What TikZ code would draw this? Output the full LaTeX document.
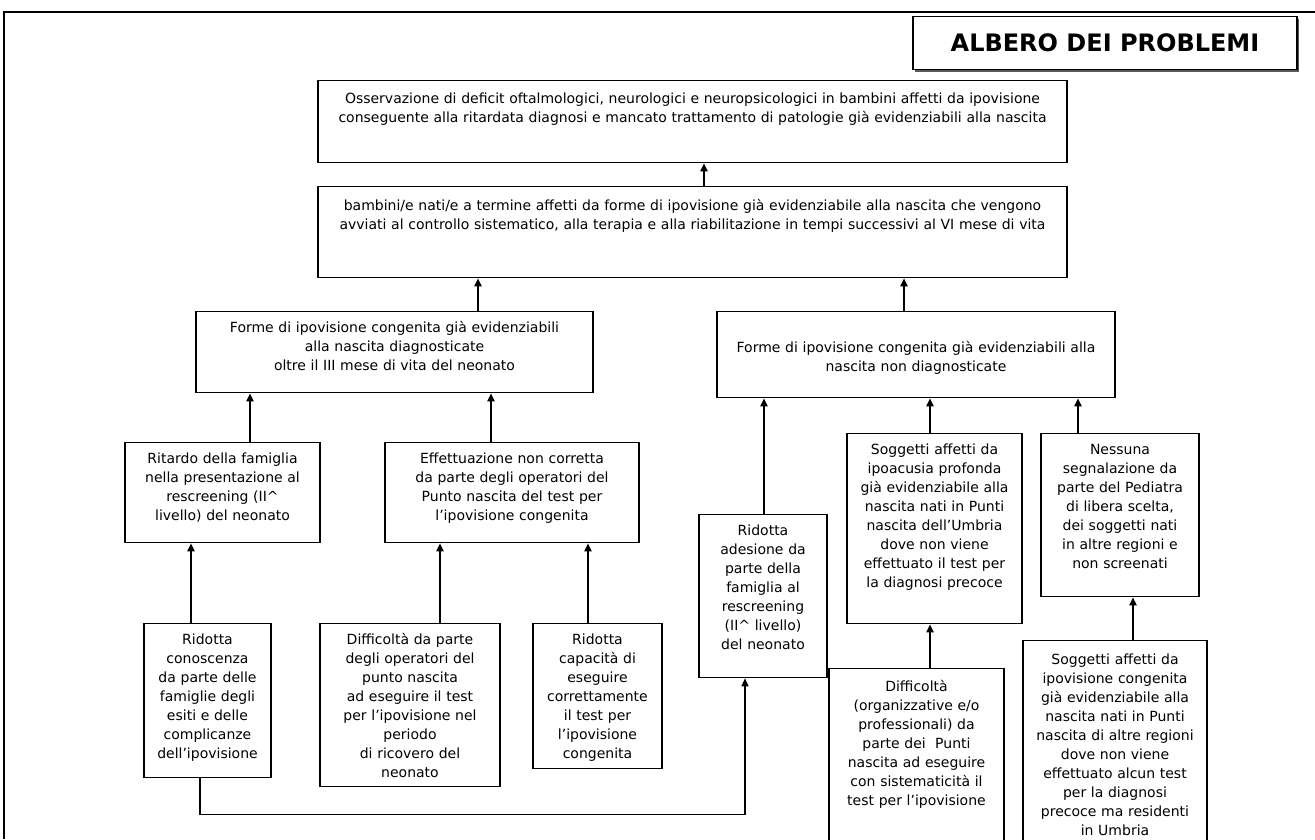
\documentclass[tikz,border=0pt]{standalone}
\usepackage{fontspec}
\setmainfont{DejaVu Sans}
\usepackage{tikz}
\usetikzlibrary{arrows.meta, shadows}

\begin{document}
\begin{tikzpicture}[
    x=1pt, y=-1pt,
    % --- node styles ---
    cell/.style={draw=black, line width=1.3pt, align=center, anchor=north,
        inner xsep=3pt, inner ysep=0pt, text height=21pt,
        font=\fontsize{14}{19}\selectfont},
    titlebox/.style={draw=black, line width=1.3pt, fill=white,
        minimum width=384pt, minimum height=53pt, inner sep=0pt,
        font=\fontsize{24}{28}\selectfont\bfseries,
        drop shadow={shadow xshift=2pt, shadow yshift=-2pt, opacity=1, fill=black!65}},
    % --- arrow styles ---
    arr/.style={-{Triangle[length=8pt, width=7pt]}, line width=1.8pt},
    link/.style={-{Triangle[length=8pt, width=7pt]}, line width=1.4pt}
]
\useasboundingbox (0,0) rectangle (1315,839);
\clip (0,0) rectangle (1315,839);

%%% ================= CORNICE E TITOLO =================
\draw [line width=2.5pt] (1315,12) -- (4,12) -- (4,839);
\node (titolo) [titlebox] at (1105,43) {ALBERO DEI PROBLEMI};

%%% ================= LIVELLO 0: EFFETTO FINALE =================
\node (osserv) [cell, text width=743pt, text height=23pt, text depth=59pt] at (692.5,80)
    {Osservazione di deficit oftalmologici, neurologici e neuropsicologici in bambini affetti da ipovisione\\
     conseguente alla ritardata diagnosi e mancato trattamento di patologie già evidenziabili alla nascita};

%%% ================= LIVELLO 1 =================
\node (tardivi) [cell, text width=743pt, text height=24pt, text depth=67pt] at (692.5,186)
    {bambini/e nati/e a termine affetti da forme di ipovisione già evidenziabile alla nascita che vengono\\
     avviati al controllo sistematico, alla terapia e alla riabilitazione in tempi successivi al VI mese di vita};

%%% ================= LIVELLO 2 =================
\node (diagtardi) [cell, text width=391pt, text depth=60pt] at (394.5,311)
    {Forme di ipovisione congenita già evidenziabili\\alla nascita diagnosticate\\oltre il III mese di vita del neonato};
\node (nondiag) [cell, text width=392pt, text height=41pt, text depth=45pt] at (916,311)
    {Forme di ipovisione congenita già evidenziabili alla\\nascita non diagnosticate};

%%% ================= LIVELLO 3 =================
\node (ritardo) [cell, text width=189pt, text depth=79pt] at (222.5,442)
    {Ritardo della famiglia\\nella presentazione al\\rescreening (II\textasciicircum\\livello) del neonato};
\node (effett) [cell, text width=248pt, text depth=79pt] at (512,442)
    {Effettuazione non corretta\\da parte degli operatori del\\Punto nascita del test per\\l’ipovisione congenita};
\node (adesione) [cell, text width=122pt, text depth=142pt] at (763,514)
    {Ridotta\\adesione da\\parte della\\famiglia al\\rescreening\\(II\textasciicircum{} livello)\\del neonato};
\node (ipoacusia) [cell, text width=169pt, text depth=169pt] at (934.5,433)
    {Soggetti affetti da\\ipoacusia profonda\\già evidenziabile alla\\nascita nati in Punti\\nascita dell’Umbria\\dove non viene\\effettuato il test per\\la diagnosi precoce};
\node (pediatra) [cell, text width=152pt, text depth=142pt] at (1120,433)
    {Nessuna\\segnalazione da\\parte del Pediatra\\di libera scelta,\\dei soggetti nati\\in altre regioni e\\non screenati};

%%% ================= LIVELLO 4: CAUSE =================
\node (conosc) [cell, text width=121pt, text depth=133pt] at (207.5,623)
    {Ridotta\\conoscenza\\da parte delle\\famiglie degli\\esiti e delle\\complicanze\\dell’ipovisione};
\node (operatori) [cell, text width=174pt, text depth=142pt] at (410,623)
    {Difficoltà da parte\\degli operatori del\\punto nascita\\ad eseguire il test\\per l’ipovisione nel\\periodo\\di ricovero del\\neonato};
\node (capacita) [cell, text width=123pt, text depth=124pt] at (597.5,623)
    {Ridotta\\capacità di\\eseguire\\correttamente\\il test per\\l’ipovisione\\congenita};
\node (organiz) [cell, text width=169pt, text height=23pt, text depth=190pt] at (916.5,668)
    {Difficoltà\\(organizzative e/o\\professionali) da\\parte dei~ Punti\\nascita ad eseguire\\con sistematicità il\\test per l’ipovisione};
\node (altrereg) [cell, text width=178pt, text height=24pt, text depth=220pt] at (1115,640)
    {Soggetti affetti da\\ipovisione congenita\\già evidenziabile alla\\nascita nati in Punti\\nascita di altre regioni\\dove non viene\\effettuato alcun test\\per la diagnosi\\precoce ma residenti\\in Umbria};

%%% ================= FRECCE =================
%% tronco
\draw [arr] (tardivi.north -| 704,0) -- (osserv.south -| 704,0);
\draw [arr] (diagtardi.north -| 478,0) -- (tardivi.south -| 478,0);
\draw [arr] (nondiag.north -| 904,0) -- (tardivi.south -| 904,0);

%% ramo sinistro
\draw [arr] (ritardo.north -| 250,0) -- (diagtardi.south -| 250,0);
\draw [arr] (effett.north -| 491,0) -- (diagtardi.south -| 491,0);
\draw [arr] (conosc.north -| 191,0) -- (ritardo.south -| 191,0);
\draw [arr] (operatori.north -| 440,0) -- (effett.south -| 440,0);
\draw [arr] (capacita.north -| 588,0) -- (effett.south -| 588,0);

%% ramo destro
\draw [arr] (adesione.north -| 764,0) -- (nondiag.south -| 764,0);
\draw [arr] (ipoacusia.north -| 930,0) -- (nondiag.south -| 930,0);
\draw [arr] (pediatra.north -| 1078,0) -- (nondiag.south -| 1078,0);
\draw [arr] (organiz.north -| 930,0) -- (ipoacusia.south -| 930,0);
\draw [arr] (altrereg.north -| 1133,0) -- (pediatra.south -| 1133,0);

%% collegamento conoscenza -> adesione
\draw [link] (conosc.south -| 200,0) -- ++(0,36) -| (adesione.south -| 745,0);

\end{tikzpicture}
\end{document}
